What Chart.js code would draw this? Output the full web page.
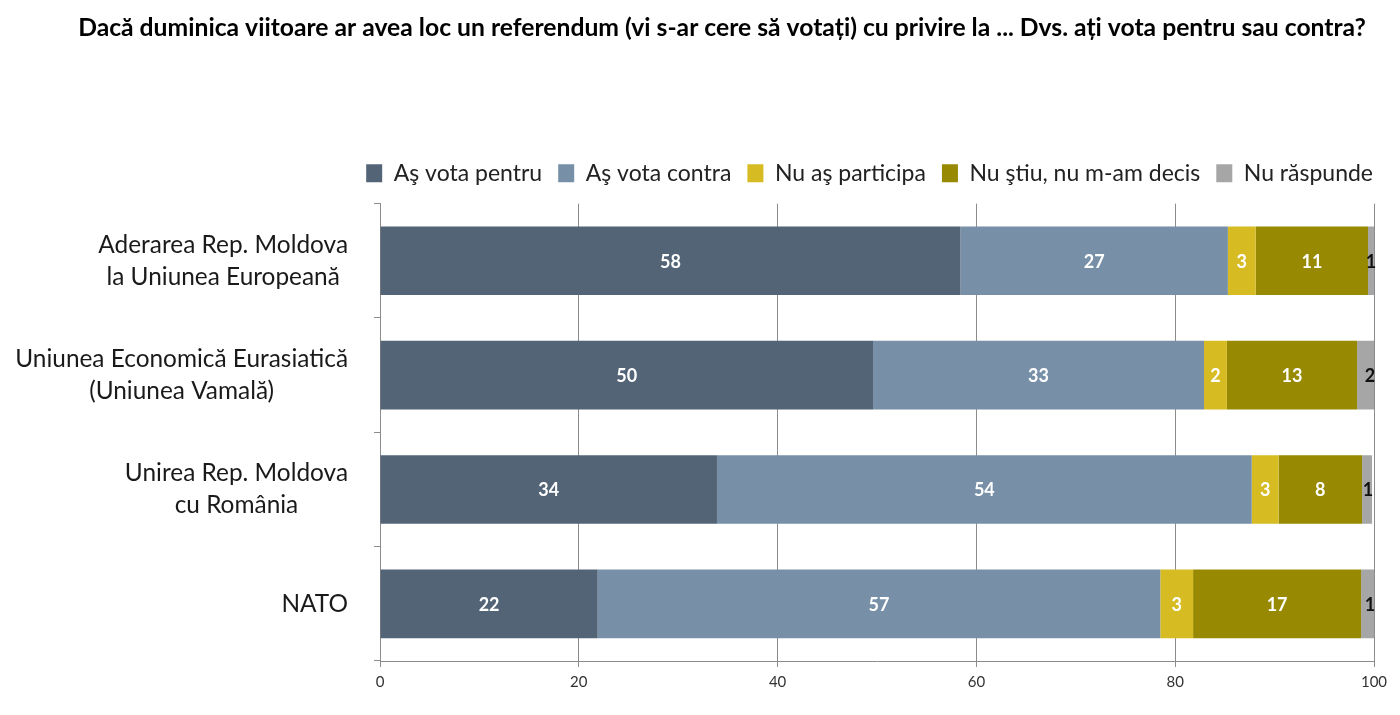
<!DOCTYPE html>
<html>
<head>
<meta charset="utf-8">
<script src="https://cdn.jsdelivr.net/npm/chart.js@4"></script>
<style>
  html, body { margin: 0; padding: 0; background: #ffffff; }
  #wrap { width: 1400px; height: 715px; position: relative; }
</style>
</head>
<body>
<div id="wrap"><canvas id="c"></canvas></div>
<script>
const titleText = "Dacă duminica viitoare ar avea loc un referendum (vi s-ar cere să votați) cu privire la ... Dvs. ați vota pentru sau contra?";
const categories = [
  ["Aderarea Rep. Moldova", "la Uniunea Europeană"],
  ["Uniunea Economică Eurasiatică", "(Uniunea Vamală)"],
  ["Unirea Rep. Moldova", "cu România"],
  ["NATO"]
];
const seriesNames = ["Aş vota pentru", "Aş vota contra", "Nu aş participa", "Nu ştiu, nu m-am decis", "Nu răspunde"];
const pentru     = [58.4, 49.6, 33.9, 21.9];
const contra     = [26.9, 33.3, 53.8, 56.6];
const participa  = [2.8, 2.3, 2.7, 3.3];
const nuStiu     = [11.3, 13.1, 8.4, 16.9];
const nuRaspunde = [0.6, 1.7, 1.0, 1.3];
const xTicks = [0, 20, 40, 60, 80, 100];

const seriesValues = [pentru, contra, participa, nuStiu, nuRaspunde];
const seriesColors = ["#536477", "#7790a8", "#d6bc22", "#978a02", "#a6a6a6"];
const labelColors  = ["#ffffff", "#ffffff", "#ffffff", "#ffffff", "#111111"];

const FONT = "Lato, 'Open Sans', sans-serif";

const yLabelPlugin = {
  id: 'yLabels',
  afterDraw(chart) {
    const ctx = chart.ctx;
    const ys = chart.scales.y;
    const right = chart.chartArea.left - 32;
    ctx.save();
    ctx.font = "24.4px " + FONT;
    ctx.fillStyle = "#1a1a1a";
    ctx.textAlign = "center";
    ctx.textBaseline = "middle";
    const lh = 32;
    categories.forEach((lines, i) => {
      const yc = ys.getPixelForValue(i);
      const maxW = Math.max(...lines.map(l => ctx.measureText(l).width));
      const cx = right - maxW / 2;
      lines.forEach((ln, j) => {
        ctx.fillText(ln, cx, yc + (j - (lines.length - 1) / 2) * lh);
      });
    });
    ctx.restore();
  }
};

const valueLabelPlugin = {
  id: 'valueLabels',
  afterDatasetsDraw(chart) {
    const ctx = chart.ctx;
    ctx.save();
    ctx.font = "bold 18px " + FONT;
    ctx.textAlign = "center";
    ctx.textBaseline = "middle";
    const last = chart.data.datasets.length - 1;
    chart.data.datasets.forEach((ds, di) => {
      const meta = chart.getDatasetMeta(di);
      meta.data.forEach((el, i) => {
        const v = ds.data[i];
        let x = (el.x + el.base) / 2;
        if (di === last) x = Math.max(x, el.x - 4);
        ctx.fillStyle = labelColors[di];
        ctx.fillText(String(Math.round(v)), x, el.y + 1);
      });
    });
    ctx.restore();
  }
};

const legendSpacePlugin = {
  id: 'legendSpace',
  afterInit(chart) {
    const lg = chart.legend;
    if (!lg) return;
    const orig = lg.fit.bind(lg);
    lg.fit = function() { orig(); this.height += 9; };
  },
  afterLayout(chart) {
    const lg = chart.legend;
    if (!lg) return;
    lg.left += 15;
    lg.right += 15;
  }
};

new Chart(document.getElementById('c'), {
  type: 'bar',
  data: {
    labels: categories,
    datasets: seriesNames.map((n, i) => ({
      label: n,
      data: seriesValues[i],
      backgroundColor: seriesColors[i],
      borderWidth: 0,
      barPercentage: 0.6,
      categoryPercentage: 1.0
    }))
  },
  options: {
    indexAxis: 'y',
    responsive: true,
    maintainAspectRatio: false,
    animation: false,
    layout: { padding: { left: 70, right: 26, top: 0, bottom: 18 } },
    plugins: {
      title: {
        display: true,
        text: titleText,
        color: "#000000",
        font: { family: FONT, size: 24.7, weight: 'bold' },
        padding: { top: 13, bottom: 103 }
      },
      legend: {
        position: 'top',
        align: 'end',
        labels: {
          boxWidth: 16,
          boxHeight: 18,
          padding: 16,
          color: "#222222",
          font: { family: FONT, size: 23 }
        }
      },
      tooltip: { enabled: false }
    },
    scales: {
      x: {
        stacked: true,
        min: 0,
        max: 100,
        afterBuildTicks(scale) { scale.ticks = xTicks.map(v => ({ value: v })); },
        grid: { color: "#8c8c8c", tickColor: "#8c8c8c", tickLength: 6, lineWidth: 1 },
        border: { color: "#8c8c8c", width: 1 },
        ticks: { color: "#333333", font: { family: FONT, size: 15 }, padding: 6 }
      },
      y: {
        stacked: true,
        afterFit(scale) { scale.width = 310; },
        grid: { offset: true, drawOnChartArea: false, color: "#8c8c8c", tickColor: "#8c8c8c", tickLength: 6 },
        border: { color: "#8c8c8c", width: 1 },
        ticks: { display: false }
      }
    }
  },
  plugins: [yLabelPlugin, valueLabelPlugin, legendSpacePlugin]
});
</script>
</body>
</html>
